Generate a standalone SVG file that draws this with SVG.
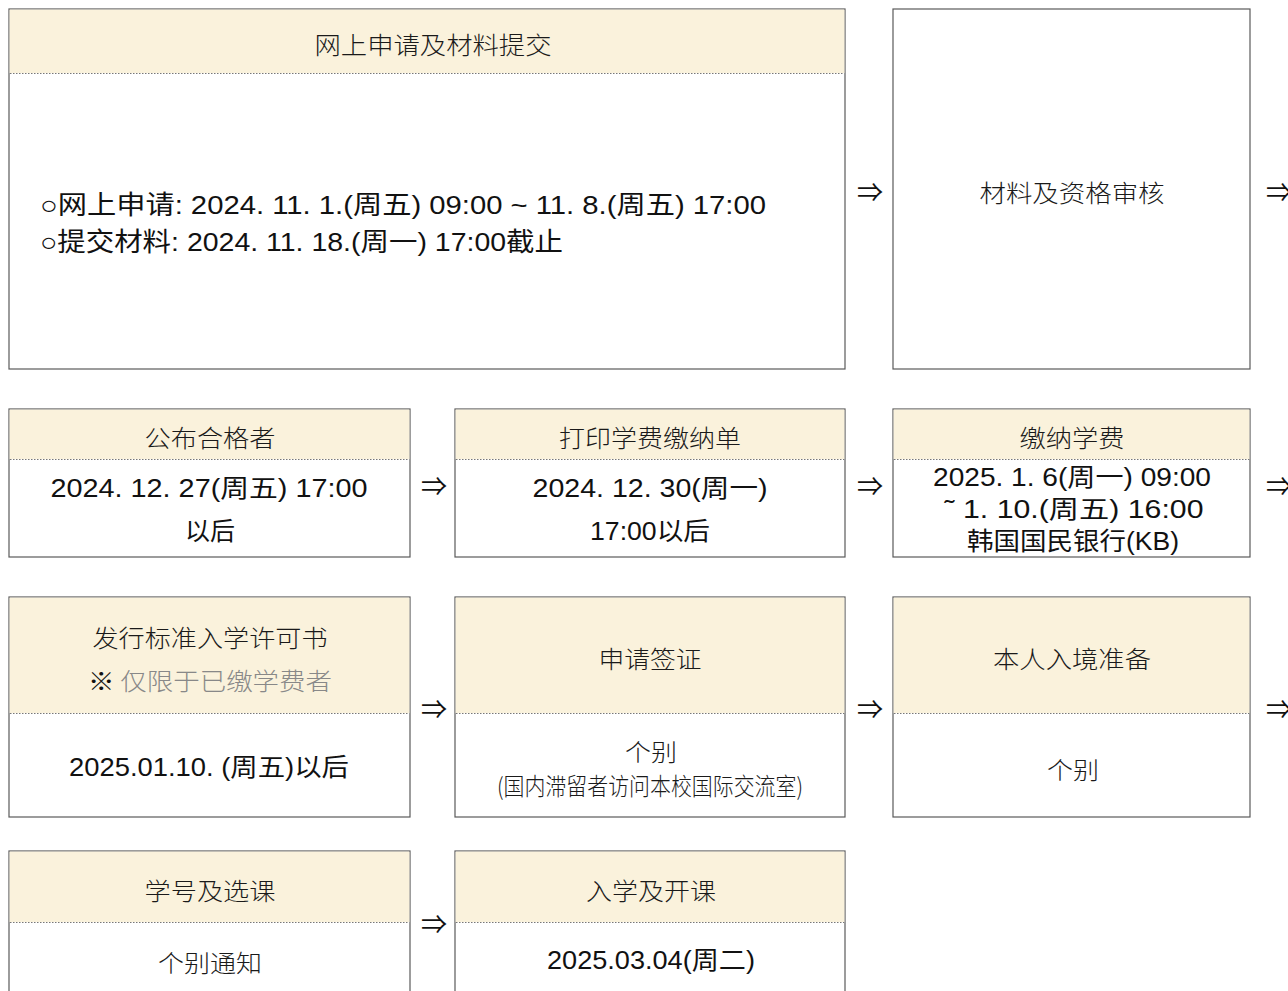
<svg xmlns="http://www.w3.org/2000/svg" width="1288" height="991" viewBox="0 0 1288 991">
<style>
.box{fill:#fff;stroke:#5a5a5a;stroke-width:1.2}
.hdr{fill:#FAF2DC}
.dot{stroke:#777;stroke-width:1;stroke-dasharray:1.5 1.5}
.h{font-family:"Noto Sans CJK SC","Liberation Sans",sans-serif;font-size:24px;fill:#1a1a1a;text-anchor:middle;dominant-baseline:central;font-weight:300}
.b{font-family:"Liberation Sans","Noto Sans CJK SC",sans-serif;font-size:25px;fill:#111;text-anchor:middle;dominant-baseline:central}
.l{font-family:"Liberation Sans","Noto Sans CJK SC",sans-serif;font-size:26px;fill:#111;dominant-baseline:central}
.arr{font-family:"Noto Sans CJK SC","DejaVu Sans",sans-serif;font-size:26px;fill:#111;text-anchor:middle;dominant-baseline:central}
.g{fill:#888}
</style>
<rect width="1288" height="991" fill="#fff"/>

<g id="n1">
<rect class="box" x="9" y="9" width="836" height="360"/>
<rect class="hdr" x="9.6" y="9.6" width="834.8" height="63.4"/>
<line class="dot" x1="10" y1="73.5" x2="844" y2="73.5"/>
<text class="h" x="433" y="43" textLength="237" lengthAdjust="spacingAndGlyphs">网上申请及材料提交</text>
<text class="l" x="40" y="205" textLength="726" lengthAdjust="spacingAndGlyphs">○网上申请: 2024. 11. 1.(周五) 09:00 ~ 11. 8.(周五) 17:00</text>
<text class="l" x="40" y="242" textLength="523" lengthAdjust="spacingAndGlyphs">○提交材料: 2024. 11. 18.(周一) 17:00截止</text>
</g>

<g id="n2">
<rect class="box" x="893" y="9" width="357" height="360"/>
<text class="h" x="1072" y="191" textLength="185" lengthAdjust="spacingAndGlyphs">材料及资格审核</text>
</g>

<g id="n3">
<rect class="box" x="9" y="409" width="401" height="148"/>
<rect class="hdr" x="9.6" y="409.6" width="399.8" height="49.4"/>
<line class="dot" x1="10" y1="459.5" x2="409" y2="459.5"/>
<text class="h" x="210" y="436" textLength="131" lengthAdjust="spacingAndGlyphs">公布合格者</text>
<text class="b" x="209" y="488" textLength="317" lengthAdjust="spacingAndGlyphs">2024. 12. 27(周五) 17:00</text>
<text class="b" x="210" y="531" textLength="50" lengthAdjust="spacingAndGlyphs">以后</text>
</g>

<g id="n4">
<rect class="box" x="455" y="409" width="390" height="148"/>
<rect class="hdr" x="455.6" y="409.6" width="388.8" height="49.4"/>
<line class="dot" x1="456" y1="459.5" x2="844" y2="459.5"/>
<text class="h" x="650" y="436" textLength="182" lengthAdjust="spacingAndGlyphs">打印学费缴纳单</text>
<text class="b" x="650" y="488" textLength="235" lengthAdjust="spacingAndGlyphs">2024. 12. 30(周一)</text>
<text class="b" x="650" y="531" textLength="120" lengthAdjust="spacingAndGlyphs">17:00以后</text>
</g>

<g id="n5">
<rect class="box" x="893" y="409" width="357" height="148"/>
<rect class="hdr" x="893.6" y="409.6" width="355.8" height="49.4"/>
<line class="dot" x1="894" y1="459.5" x2="1249" y2="459.5"/>
<text class="h" x="1072" y="436" textLength="105" lengthAdjust="spacingAndGlyphs">缴纳学费</text>
<text class="b" x="1072" y="477" textLength="278" lengthAdjust="spacingAndGlyphs">2025. 1. 6(周一) 09:00</text>
<text class="b" x="1074" y="509" textLength="259" lengthAdjust="spacingAndGlyphs">˜  1. 10.(周五) 16:00</text>
<text class="b" x="1073" y="541" textLength="212" lengthAdjust="spacingAndGlyphs">韩国国民银行(KB)</text>
</g>

<g id="n6">
<rect class="box" x="9" y="597" width="401" height="220"/>
<rect class="hdr" x="9.6" y="597.6" width="399.8" height="115.4"/>
<line class="dot" x1="10" y1="713.5" x2="409" y2="713.5"/>
<text class="h" x="210" y="636" textLength="235" lengthAdjust="spacingAndGlyphs">发行标准入学许可书</text>
<text class="h" x="210" y="679" textLength="244" lengthAdjust="spacingAndGlyphs"><tspan fill="#111">※</tspan><tspan class="g"> 仅限于已缴学费者</tspan></text>
<text class="b" x="209" y="767" textLength="280" lengthAdjust="spacingAndGlyphs">2025.01.10. (周五)以后</text>
</g>

<g id="n7">
<rect class="box" x="455" y="597" width="390" height="220"/>
<rect class="hdr" x="455.6" y="597.6" width="388.8" height="115.4"/>
<line class="dot" x1="456" y1="713.5" x2="844" y2="713.5"/>
<text class="h" x="650" y="657" textLength="103" lengthAdjust="spacingAndGlyphs">申请签证</text>
<text class="h" x="651" y="750" textLength="52" lengthAdjust="spacingAndGlyphs">个别</text>
<text class="h" x="650" y="784" textLength="306" lengthAdjust="spacingAndGlyphs">(国内滞留者访问本校国际交流室)</text>
</g>

<g id="n8">
<rect class="box" x="893" y="597" width="357" height="220"/>
<rect class="hdr" x="893.6" y="597.6" width="355.8" height="115.4"/>
<line class="dot" x1="894" y1="713.5" x2="1249" y2="713.5"/>
<text class="h" x="1072" y="657" textLength="158" lengthAdjust="spacingAndGlyphs">本人入境准备</text>
<text class="h" x="1073" y="768" textLength="52" lengthAdjust="spacingAndGlyphs">个别</text>
</g>

<g id="n9">
<rect class="box" x="9" y="851" width="401" height="160"/>
<rect class="hdr" x="9.6" y="851.6" width="399.8" height="70.4"/>
<line class="dot" x1="10" y1="922.5" x2="409" y2="922.5"/>
<text class="h" x="210" y="889" textLength="131" lengthAdjust="spacingAndGlyphs">学号及选课</text>
<text class="h" x="210" y="961" textLength="104" lengthAdjust="spacingAndGlyphs">个别通知</text>
</g>

<g id="n10">
<rect class="box" x="455" y="851" width="390" height="160"/>
<rect class="hdr" x="455.6" y="851.6" width="388.8" height="70.4"/>
<line class="dot" x1="456" y1="922.5" x2="844" y2="922.5"/>
<text class="h" x="651" y="889" textLength="130" lengthAdjust="spacingAndGlyphs">入学及开课</text>
<text class="b" x="651" y="960" textLength="208" lengthAdjust="spacingAndGlyphs">2025.03.04(周二)</text>
</g>

<g id="connectors">
<text class="arr" x="870" y="190">⇒</text>
<text class="arr" x="1279" y="190">⇒</text>
<text class="arr" x="434" y="484">⇒</text>
<text class="arr" x="870" y="484">⇒</text>
<text class="arr" x="1279" y="484">⇒</text>
<text class="arr" x="434" y="707">⇒</text>
<text class="arr" x="870" y="707">⇒</text>
<text class="arr" x="1279" y="707">⇒</text>
<text class="arr" x="434" y="922">⇒</text>
</g>
</svg>
